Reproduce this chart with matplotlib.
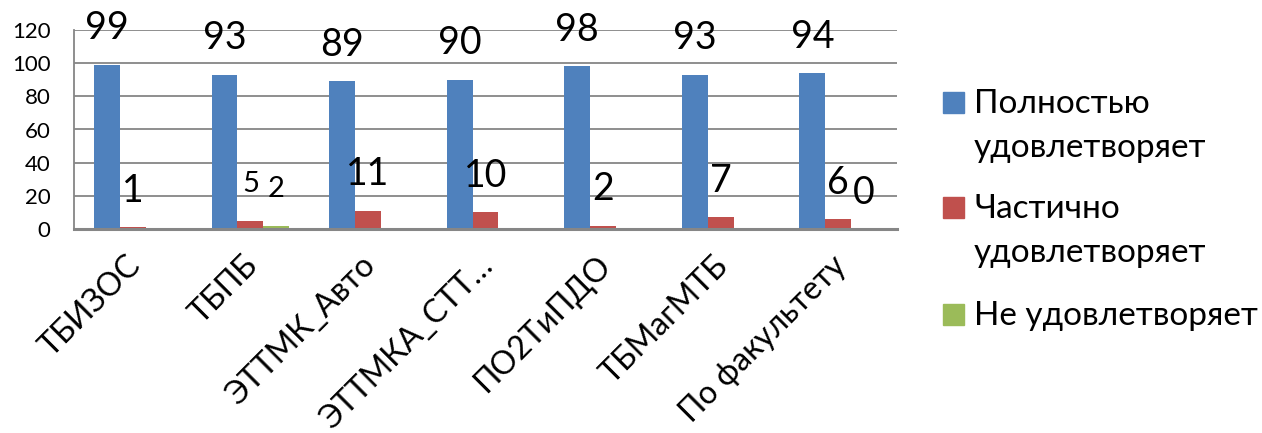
import numpy as np
import matplotlib
matplotlib.use('Agg')
import matplotlib.pyplot as plt
from matplotlib.patches import Rectangle
from matplotlib.transforms import ScaledTranslation

plt.rcParams['font.family'] = ['Lato', 'Open Sans', 'DejaVu Sans']

# data
categories = ['ТБИЗОС', 'ТБПБ', 'ЭТТМК_Авто', 'ЭТТМКА_СТТ…', 'ПО2ТиПДО', 'ТБМагМТБ', 'По факультету']
full = [99, 93, 89, 90, 98, 93, 94]
partial = [1, 5, 11, 10, 2, 7, 6]
none_ = [np.nan, 2, np.nan, np.nan, np.nan, np.nan, 0]
series_names = ['Полностью\nудовлетворяет', 'Частично\nудовлетворяет', 'Не удовлетворяет']
colors = ['#4F81BD', '#C0504D', '#9BBB59']
yticks = [0, 20, 40, 60, 80, 100, 120]

W, H = 1262, 433
fig = plt.figure(figsize=(W / 100, H / 100), dpi=100)
ax = fig.add_axes([74 / W, 1 - 229 / H, 823 / W, 199 / H])

x = np.arange(len(categories))
bw = 0.22
all_series = [full, partial, none_]
for i, (vals, col) in enumerate(zip(all_series, colors)):
    v = np.array(vals, dtype=float)
    xs = x + (i - 1) * bw
    ax.bar(xs, np.nan_to_num(v), width=bw, color=col, zorder=3)
    for xi, val, cat in zip(xs, v, categories):
        if np.isnan(val):
            continue
        # the two small labels in the ТБПБ group are a bit smaller in the original
        fs = 21 if (cat == 'ТБПБ' and i > 0) else 27
        ax.text(xi, val + 22, '%d' % val, ha='center', va='center',
                fontsize=fs, color='black', zorder=4, clip_on=False)

ax.set_xlim(-0.5, len(categories) - 0.5)
ax.set_ylim(0, 120)
ax.set_yticks(yticks)
ax.yaxis.grid(True, color='#868686', lw=1.3, zorder=0)
ax.tick_params(axis='y', length=0, pad=17, labelsize=16)
ax.tick_params(axis='x', length=0, pad=23)
ax.set_xticks(x)
ax.set_xticklabels(categories, rotation=45, ha='right', va='center',
                   rotation_mode='anchor', fontsize=23)
shift = ScaledTranslation(3 / 100, 0, fig.dpi_scale_trans)
for lbl in ax.get_xticklabels():
    lbl.set_transform(lbl.get_transform() + shift)

for s in ['top', 'right']:
    ax.spines[s].set_visible(False)
ax.spines['left'].set_color('#868686')
ax.spines['left'].set_linewidth(1.3)
ax.spines['bottom'].set_color('#868686')
ax.spines['bottom'].set_linewidth(2.2)
ax.spines['bottom'].set_zorder(5)

# legend drawn by hand, Excel-style (square next to first line)
baselines = [113, 218, 325]
for name, col, yb in zip(series_names, colors, baselines):
    fig.patches.append(Rectangle((943 / W, 1 - yb / H), 21 / W, 21 / H,
                                 transform=fig.transFigure, color=col))
    lines = name.split('\n')
    for k, line in enumerate(lines):
        fig.text(974 / W, 1 - (yb + k * 44) / H, line, fontsize=24,
                 va='baseline', ha='left')

fig.savefig('out.png', dpi=100)
